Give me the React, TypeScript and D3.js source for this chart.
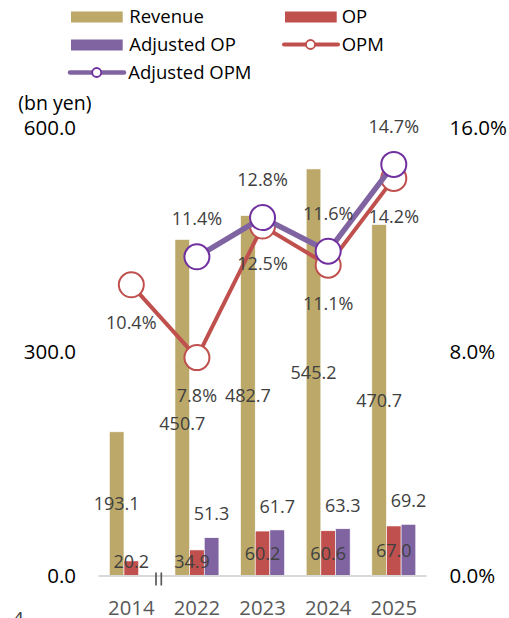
import React from "react";
import * as d3 from "d3";

// Fiscal years and figures (bn yen / %)
const years = ["2014", "2022", "2023", "2024", "2025"];
const revenue = [193.1, 450.7, 482.7, 545.2, 470.7];
const op = [20.2, 34.9, 60.2, 60.6, 67.0];
const adjustedOp: (number | null)[] = [null, 51.3, 61.7, 63.3, 69.2];
const opm = [10.4, 7.8, 12.5, 11.1, 14.2];
const adjustedOpm: (number | null)[] = [null, 11.4, 12.8, 11.6, 14.7];
const leftTicks = [0, 300, 600];
const rightTicks = [0, 8, 16];

const W = 509;
const H = 618;
const FONT = "'Open Sans', 'Noto Sans', sans-serif";
const C_REV = "#bca969";
const C_OP = "#c0504d";
const C_ADJ = "#8064a2";
const C_ADJ_MARK = "#7030a0";
const LABEL = "#404040";

export default function App() {
  const x = d3.scaleBand<string>().domain(years).range([98.5, 426.6]).padding(0);
  const x1 = d3
    .scaleBand<string>()
    .domain(["rev", "op", "adj"])
    .range([0, x.bandwidth()])
    .paddingInner(0)
    .paddingOuter(0.74);
  const yL = d3.scaleLinear().domain([0, 600]).range([576, 128]);
  const yR = d3.scaleLinear().domain([0, 16]).range([576, 128]);
  const cx = (i: number) => (x(years[i]) as number) + x.bandwidth() / 2;
  const barX = (i: number, k: string) => (x(years[i]) as number) + (x1(k) as number);
  const bw = x1.bandwidth();

  const opmLine = d3
    .line<number>()
    .x((_, i) => cx(i))
    .y((d) => yR(d));
  const adjPts = adjustedOpm
    .map((v, i) => ({ v, i }))
    .filter((d) => d.v != null) as { v: number; i: number }[];
  const adjLine = d3
    .line<{ v: number; i: number }>()
    .x((d) => cx(d.i))
    .y((d) => yR(d.v));

  // hand-placed nudges for a few labels to keep them clear of the lines
  const revShift: Record<string, number> = { "2022": 16 };
  const opShiftX: Record<string, number> = { "2022": -5 };

  return (
    <svg
      width={W}
      height={H}
      style={{ position: "absolute", left: 0, top: 0, background: "#fff" }}
      fontFamily={FONT}
    >
      {/* legend */}
      <g fontSize={18.5} fill="#000">
        <rect x={71} y={11.5} width={51.7} height={11} fill={C_REV} />
        <text x={129.3} y={17} dy="0.35em">Revenue</text>
        <rect x={285} y={11.5} width={51.7} height={11} fill={C_OP} />
        <text x={341.7} y={17} dy="0.35em">OP</text>
        <rect x={71} y={39.5} width={51.7} height={11} fill={C_ADJ} />
        <text x={129.3} y={44.7} dy="0.35em">Adjusted OP</text>
        <line x1={284} x2={338} y1={44.5} y2={44.5} stroke={C_OP} strokeWidth={4} strokeLinecap="round" />
        <circle cx={310.5} cy={44.5} r={4.5} fill="#fff" stroke={C_OP} strokeWidth={1.8} />
        <text x={341.7} y={44.7} dy="0.35em">OPM</text>
        <line x1={70} x2={124} y1={72.5} y2={72.5} stroke={C_ADJ} strokeWidth={4.5} strokeLinecap="round" />
        <circle cx={96.7} cy={72.5} r={4.5} fill="#fff" stroke={C_ADJ_MARK} strokeWidth={1.8} />
        <text x={128.3} y={72.7} dy="0.35em">Adjusted OPM</text>
      </g>

      {/* unit */}
      <text x={18.3} y={103} dy="0.35em" fontSize={19.5} fill="#000">(bn yen)</text>

      {/* axes labels */}
      <g fontSize={20.5} fill="#000">
        {leftTicks.map((t) => (
          <text key={"l" + t} x={76} y={yL(t)} dy="0.35em" textAnchor="end">
            {t.toFixed(1)}
          </text>
        ))}
        {rightTicks.map((t) => (
          <text key={"r" + t} x={449.5} y={yR(t)} dy="0.35em">
            {t.toFixed(1)}%
          </text>
        ))}
      </g>

      {/* bars */}
      {revenue.map((v, i) => (
        <rect key={"rev" + i} x={barX(i, "rev")} y={yL(v)} width={bw} height={yL(0) - yL(v)} fill={C_REV} stroke="#fff" strokeWidth={0.6} />
      ))}
      {op.map((v, i) => (
        <rect key={"op" + i} x={barX(i, "op")} y={yL(v)} width={bw} height={yL(0) - yL(v)} fill={C_OP} stroke="#fff" strokeWidth={0.6} />
      ))}
      {adjustedOp.map((v, i) =>
        v == null ? null : (
          <rect key={"adj" + i} x={barX(i, "adj")} y={yL(v)} width={bw} height={yL(0) - yL(v)} fill={C_ADJ} stroke="#fff" strokeWidth={0.6} />
        )
      )}

      {/* category axis with break mark */}
      <line x1={98.5} x2={426.6} y1={576} y2={576} stroke="#d9d9d9" strokeWidth={2} />
      <g stroke="#595959" strokeWidth={1.7}>
        <line x1={156} x2={156} y1={572.5} y2={585.5} />
        <line x1={161.3} x2={161.3} y1={572.5} y2={585.5} />
      </g>
      <g fontSize={20.3} fill="#595959">
        {years.map((yr, i) => (
          <text key={yr} x={cx(i)} y={607.5} dy="0.35em" textAnchor="middle">
            {yr}
          </text>
        ))}
      </g>
      <text x={12.5} y={626} fontSize={20} fill="#404040">4</text>

      {/* bar value labels */}
      <g fontSize={18} fill={LABEL} textAnchor="middle">
        {revenue.map((v, i) => (
          <text key={"lr" + i} x={barX(i, "rev") + bw / 2} y={(yL(v) + yL(0)) / 2 + (revShift[years[i]] || 0)} dy="0.35em">
            {v.toFixed(1)}
          </text>
        ))}
        {op.map((v, i) => (
          <text key={"lo" + i} x={barX(i, "op") + bw / 2 + (opShiftX[years[i]] || 0)} y={Math.min((yL(v) + yL(0)) / 2, 562)} dy="0.35em">
            {v.toFixed(1)}
          </text>
        ))}
        {adjustedOp.map((v, i) =>
          v == null ? null : (
            <text key={"la" + i} x={barX(i, "adj") + bw / 2} y={yL(v) - 23.5} dy="0.35em">
              {v.toFixed(1)}
            </text>
          )
        )}
      </g>

      {/* margin lines */}
      <path d={opmLine(opm) || ""} fill="none" stroke={C_OP} strokeWidth={4} strokeLinejoin="round" />
      {opm.map((v, i) => (
        <circle key={"mo" + i} cx={cx(i)} cy={yR(v)} r={12.5} fill="#fff" stroke={C_OP} strokeWidth={2} />
      ))}
      <path d={adjLine(adjPts) || ""} fill="none" stroke={C_ADJ} strokeWidth={5.5} strokeLinejoin="round" />
      {adjPts.map((d) => (
        <circle key={"ma" + d.i} cx={cx(d.i)} cy={yR(d.v)} r={12.5} fill="#fff" stroke={C_ADJ_MARK} strokeWidth={2} />
      ))}

      {/* margin labels */}
      <g fontSize={18} fill={LABEL} textAnchor="middle">
        {opm.map((v, i) => (
          <text key={"po" + i} x={cx(i)} y={yR(v) + 38} dy="0.35em">
            {v.toFixed(1)}%
          </text>
        ))}
        {adjPts.map((d) => (
          <text key={"pa" + d.i} x={cx(d.i)} y={yR(d.v) - 38} dy="0.35em">
            {d.v.toFixed(1)}%
          </text>
        ))}
      </g>
    </svg>
  );
}
